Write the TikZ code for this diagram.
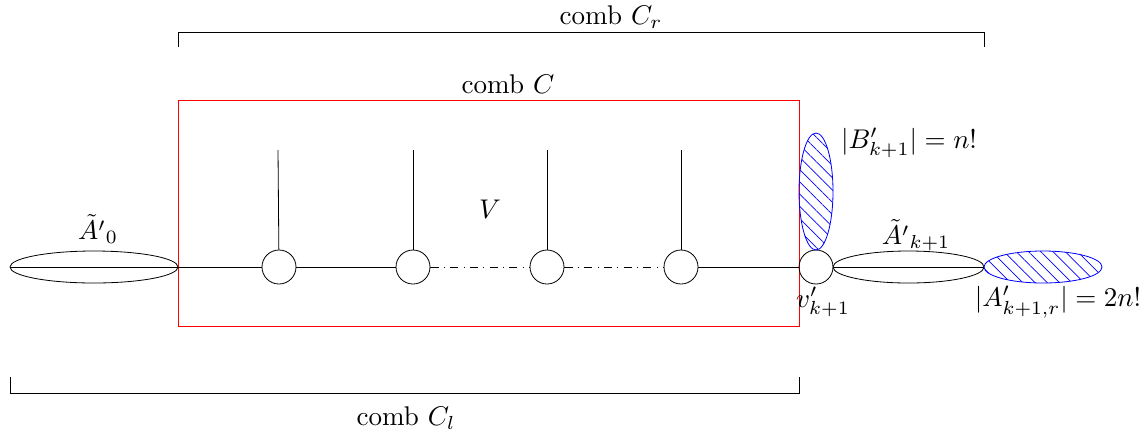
\documentclass[tikz,border=0pt]{standalone}
\usetikzlibrary{patterns.meta}
\begin{document}
\begin{tikzpicture}[x=0.37pt,y=-0.37pt,
  vtx/.style={draw,circle,minimum size=34*0.37pt,inner sep=0pt},
  lbl/.style={inner sep=0pt},
  hatchell/.style={draw=blue,pattern={Lines[angle=-45,distance=3.2pt,line width=0.25pt]},pattern color=blue},
  every path/.style={line width=0.3pt}]
\useasboundingbox (0,0) rectangle (1146,434);
% top bracket
\coordinate (cr1) at (178,47);
\coordinate (cr2) at (984,47);
\draw (cr1) -- ++(0,-15) -| (cr2);
\node[lbl] (crl) at (611,17) {comb $C_r$};
% red box
\draw[red] (178,100) rectangle (799,326);
\node[lbl] (cl) at (508,84) {comb $C$};
% left ellipse
\draw (94,267) ellipse (84 and 16);
\coordinate (a0l) at (10,267);
\coordinate (a0r) at (178,267);
\draw (a0l) -- (a0r);
\node[lbl] (a0) at (98,229) {$\tilde{A'}_0$};
% vertices
\node[vtx] (v1) at (279,267) {};
\node[vtx] (v2) at (413,267) {};
\node[vtx] (v3) at (547,267) {};
\node[vtx] (v4) at (681,267) {};
\node[vtx] (v5) at (816,267) {};
\draw (a0r) -- (v1);
\draw (v1) -- (v2);
\draw[dash dot] (v2) -- (v3);
\draw[dash dot] (v3) -- (v4);
\draw (v4) -- (v5);
\foreach \n/\x in {v1/278,v2/413,v3/547,v4/681}{
  \coordinate (t\n) at (\x,150);
  \draw (\n) -- (t\n);
}
\node[lbl] (V) at (490,209) {$V$};
% right ellipses
\draw (908.5,267) ellipse (75.5 and 16);
\coordinate (akl) at (833,267);
\coordinate (akr) at (984,267);
\draw (akl) -- (akr);
\node[lbl] (ak) at (916,235) {$\tilde{A'}_{k+1}$};
\draw[hatchell] (1043,267) ellipse (59 and 16);
\draw[hatchell] (816,191.5) ellipse (17 and 58.5);
\node[lbl] (bk) at (909,143) {$|B'_{k+1}|=n!$};
\node[lbl] (vk) at (823,302) {$v'_{k+1}$};
\node[lbl] (ar) at (1058,302) {$|A'_{k+1,r}|=2n!$};
% bottom bracket
\coordinate (cl1) at (10,377);
\coordinate (cl2) at (799,377);
\draw (cl1) -- ++(0,16) -| (cl2);
\node[lbl] (cll) at (406,418) {comb $C_l$};
\end{tikzpicture}
\end{document}
